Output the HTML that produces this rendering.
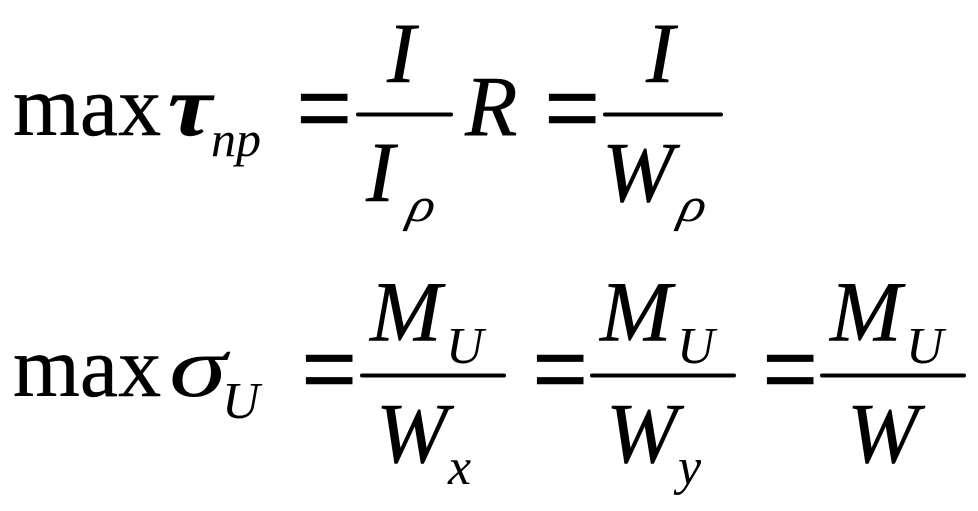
<!DOCTYPE html>
<html>
<head>
<meta charset="utf-8">
<style>
html,body{margin:0;padding:0;background:#fff;width:978px;height:511px;overflow:hidden}
svg{display:block}
text{font-family:"Liberation Serif",serif;fill:#000}
.i{font-style:italic}
.b{font-size:86px;stroke:#000;stroke-width:.4px}
.s{font-size:52px}
.e{font-size:86px;stroke:#000;stroke-width:1.2px}
</style>
</head>
<body>
<svg width="978" height="511" viewBox="0 0 978 511" xmlns="http://www.w3.org/2000/svg">
<text x="13" y="135" class="b">max</text>
<text transform="translate(168,135) scale(1.15,1)" class="b i" font-weight="bold">τ</text>
<text x="211" y="156" class="i" font-size="50">np</text>
<text transform="translate(296.75,145.5) scale(1.13,1.3)" class="e">=</text>
<text x="387" y="82" class="b i">I</text>
<rect x="356" y="112.5" width="97" height="4" rx="2"/>
<text x="366" y="201" class="b i">I</text>
<text transform="translate(406,221) skewX(-12) scale(1.05,.92)" class="s i">ρ</text>
<text x="465" y="135" class="b i">R</text>
<text transform="translate(544.75,145.5) scale(1.13,1.3)" class="e">=</text>
<text x="646" y="82" class="b i">I</text>
<rect x="603" y="112.5" width="120" height="4" rx="2"/>
<text x="602" y="201" class="b i">W</text>
<text transform="translate(677,221) skewX(-12) scale(1.05,.92)" class="s i">ρ</text>

<text x="13" y="396" class="b">max</text>
<text transform="translate(169,396) scale(1.36,1)" class="i" font-size="86">σ</text>
<text x="222" y="418" class="s i">U</text>
<text transform="translate(301.75,406.5) scale(1.13,1.3)" class="e">=</text>
<text x="370" y="340.5" class="b i">M</text>
<text x="446" y="363" class="s i">U</text>
<rect x="360" y="373.5" width="146" height="4" rx="2"/>
<text x="376" y="462" class="b i">W</text>
<text x="448" y="484" class="s i">x</text>
<text transform="translate(532.75,406.5) scale(1.13,1.3)" class="e">=</text>
<text x="600" y="340.5" class="b i">M</text>
<text x="677" y="363" class="s i">U</text>
<rect x="590" y="373.5" width="146" height="4" rx="2"/>
<text x="606" y="462" class="b i">W</text>
<text x="678" y="484" class="s i">y</text>
<text transform="translate(762.75,406.5) scale(1.13,1.3)" class="e">=</text>
<text x="830" y="340.5" class="b i">M</text>
<text x="906" y="363" class="s i">U</text>
<rect x="820" y="373.5" width="146" height="4" rx="2"/>
<text x="847" y="462" class="b i">W</text>
</svg>
</body>
</html>
